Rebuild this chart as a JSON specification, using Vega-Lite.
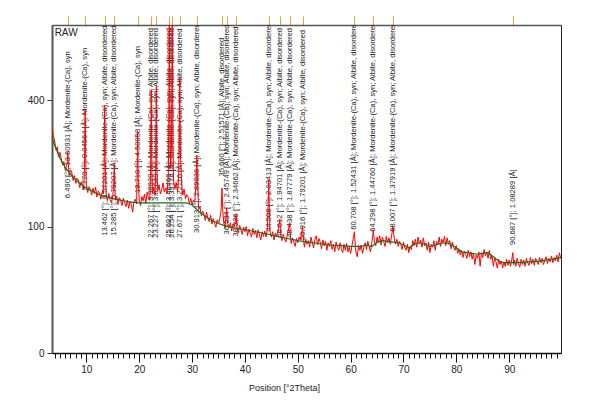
{
"$schema":"https://vega.github.io/schema/vega-lite/v6.json",
"width":509,"height":328,
"autosize":{"type":"none"},
"padding":{"left":52,"top":25,"right":30,"bottom":50},
"background":"white",
"config":{"view":{"stroke":"#222","strokeWidth":1},"axis":{"grid":false,"labelFont":"Liberation Sans","titleFont":"Liberation Sans"}},
"datasets":{
"scan":[
{"twoTheta":3.5,"counts":318},{"twoTheta":3.75,"counts":296},{"twoTheta":4.0,"counts":281},{"twoTheta":4.25,"counts":258},{"twoTheta":4.5,"counts":266},{"twoTheta":4.75,"counts":241},{"twoTheta":5.0,"counts":252},{"twoTheta":5.25,"counts":236},{"twoTheta":5.5,"counts":221},{"twoTheta":5.75,"counts":229},{"twoTheta":6.0,"counts":210},{"twoTheta":6.25,"counts":218},{"twoTheta":6.4,"counts":226},{"twoTheta":6.49,"counts":252},{"twoTheta":6.6,"counts":221},{"twoTheta":6.75,"counts":197},{"twoTheta":7.0,"counts":208},{"twoTheta":7.25,"counts":203},{"twoTheta":7.5,"counts":186},{"twoTheta":7.75,"counts":197},{"twoTheta":8.0,"counts":180},{"twoTheta":8.25,"counts":191},{"twoTheta":8.5,"counts":187},{"twoTheta":8.75,"counts":171},{"twoTheta":9.0,"counts":183},{"twoTheta":9.25,"counts":176},{"twoTheta":9.5,"counts":168},{"twoTheta":9.65,"counts":215},{"twoTheta":9.77,"counts":370},{"twoTheta":9.9,"counts":225},{"twoTheta":10.0,"counts":178},{"twoTheta":10.25,"counts":161},{"twoTheta":10.5,"counts":173},{"twoTheta":10.75,"counts":168},{"twoTheta":11.0,"counts":156},{"twoTheta":11.25,"counts":170},{"twoTheta":11.5,"counts":159},{"twoTheta":11.75,"counts":172},{"twoTheta":12.0,"counts":152},{"twoTheta":12.25,"counts":164},{"twoTheta":12.5,"counts":160},{"twoTheta":12.75,"counts":148},{"twoTheta":13.0,"counts":162},{"twoTheta":13.25,"counts":158},{"twoTheta":13.36,"counts":215},{"twoTheta":13.46,"counts":383},{"twoTheta":13.56,"counts":235},{"twoTheta":13.75,"counts":158},{"twoTheta":14.0,"counts":145},{"twoTheta":14.25,"counts":159},{"twoTheta":14.5,"counts":147},{"twoTheta":14.75,"counts":141},{"twoTheta":15.0,"counts":155},{"twoTheta":15.15,"counts":175},{"twoTheta":15.29,"counts":226},{"twoTheta":15.4,"counts":166},{"twoTheta":15.5,"counts":146},{"twoTheta":15.75,"counts":154},{"twoTheta":16.0,"counts":139},{"twoTheta":16.25,"counts":151},{"twoTheta":16.5,"counts":145},{"twoTheta":16.75,"counts":136},{"twoTheta":17.0,"counts":150},{"twoTheta":17.25,"counts":141},{"twoTheta":17.5,"counts":134},{"twoTheta":17.75,"counts":146},{"twoTheta":18.0,"counts":131},{"twoTheta":18.25,"counts":144},{"twoTheta":18.5,"counts":138},{"twoTheta":18.75,"counts":124},{"twoTheta":19.0,"counts":143},{"twoTheta":19.25,"counts":148},{"twoTheta":19.5,"counts":139},{"twoTheta":19.61,"counts":195},{"twoTheta":19.71,"counts":306},{"twoTheta":19.81,"counts":190},{"twoTheta":20.0,"counts":146},{"twoTheta":20.25,"counts":136},{"twoTheta":20.5,"counts":153},{"twoTheta":20.75,"counts":145},{"twoTheta":21.0,"counts":158},{"twoTheta":21.25,"counts":140},{"twoTheta":21.5,"counts":162},{"twoTheta":21.75,"counts":151},{"twoTheta":22.0,"counts":146},{"twoTheta":22.15,"counts":205},{"twoTheta":22.27,"counts":434},{"twoTheta":22.4,"counts":205},{"twoTheta":22.5,"counts":160},{"twoTheta":22.75,"counts":171},{"twoTheta":23.0,"counts":155},{"twoTheta":23.12,"counts":215},{"twoTheta":23.23,"counts":444},{"twoTheta":23.35,"counts":210},{"twoTheta":23.5,"counts":165},{"twoTheta":23.75,"counts":177},{"twoTheta":24.0,"counts":158},{"twoTheta":24.25,"counts":166},{"twoTheta":24.5,"counts":181},{"twoTheta":24.75,"counts":162},{"twoTheta":25.0,"counts":170},{"twoTheta":25.25,"counts":158},{"twoTheta":25.5,"counts":195},{"twoTheta":25.6,"counts":330},{"twoTheta":25.69,"counts":700},{"twoTheta":25.8,"counts":310},{"twoTheta":25.95,"counts":215},{"twoTheta":26.1,"counts":265},{"twoTheta":26.25,"counts":700},{"twoTheta":26.38,"counts":270},{"twoTheta":26.5,"counts":185},{"twoTheta":26.75,"counts":168},{"twoTheta":27.0,"counts":182},{"twoTheta":27.25,"counts":163},{"twoTheta":27.45,"counts":195},{"twoTheta":27.56,"counts":265},{"twoTheta":27.67,"counts":475},{"twoTheta":27.8,"counts":245},{"twoTheta":27.95,"counts":205},{"twoTheta":28.1,"counts":170},{"twoTheta":28.25,"counts":156},{"twoTheta":28.5,"counts":168},{"twoTheta":28.75,"counts":149},{"twoTheta":29.0,"counts":157},{"twoTheta":29.25,"counts":152},{"twoTheta":29.5,"counts":140},{"twoTheta":29.75,"counts":150},{"twoTheta":30.0,"counts":137},{"twoTheta":30.25,"counts":146},{"twoTheta":30.5,"counts":142},{"twoTheta":30.7,"counts":172},{"twoTheta":30.81,"counts":205},{"twoTheta":30.91,"counts":245},{"twoTheta":31.02,"counts":185},{"twoTheta":31.25,"counts":129},{"twoTheta":31.5,"counts":133},{"twoTheta":31.75,"counts":118},{"twoTheta":32.0,"counts":126},{"twoTheta":32.25,"counts":121},{"twoTheta":32.5,"counts":110},{"twoTheta":32.75,"counts":124},{"twoTheta":33.0,"counts":113},{"twoTheta":33.25,"counts":108},{"twoTheta":33.5,"counts":119},{"twoTheta":33.75,"counts":104},{"twoTheta":34.0,"counts":113},{"twoTheta":34.25,"counts":106},{"twoTheta":34.5,"counts":99},{"twoTheta":34.75,"counts":111},{"twoTheta":35.0,"counts":104},{"twoTheta":35.25,"counts":113},{"twoTheta":35.5,"counts":128},{"twoTheta":35.66,"counts":170},{"twoTheta":35.8,"counts":128},{"twoTheta":36.0,"counts":106},{"twoTheta":36.25,"counts":98},{"twoTheta":36.4,"counts":115},{"twoTheta":36.53,"counts":132},{"twoTheta":36.7,"counts":105},{"twoTheta":37.0,"counts":98},{"twoTheta":37.25,"counts":106},{"twoTheta":37.5,"counts":93},{"twoTheta":37.75,"counts":104},{"twoTheta":38.0,"counts":99},{"twoTheta":38.15,"counts":108},{"twoTheta":38.33,"counts":120},{"twoTheta":38.5,"counts":97},{"twoTheta":38.75,"counts":90},{"twoTheta":39.0,"counts":102},{"twoTheta":39.25,"counts":95},{"twoTheta":39.5,"counts":88},{"twoTheta":39.75,"counts":99},{"twoTheta":40.0,"counts":92},{"twoTheta":40.25,"counts":100},{"twoTheta":40.5,"counts":86},{"twoTheta":40.75,"counts":96},{"twoTheta":41.0,"counts":90},{"twoTheta":41.25,"counts":84},{"twoTheta":41.5,"counts":97},{"twoTheta":41.75,"counts":88},{"twoTheta":42.0,"counts":94},{"twoTheta":42.25,"counts":83},{"twoTheta":42.5,"counts":95},{"twoTheta":42.75,"counts":87},{"twoTheta":43.0,"counts":80},{"twoTheta":43.25,"counts":92},{"twoTheta":43.5,"counts":85},{"twoTheta":43.75,"counts":93},{"twoTheta":44.0,"counts":84},{"twoTheta":44.25,"counts":98},{"twoTheta":44.4,"counts":140},{"twoTheta":44.51,"counts":188},{"twoTheta":44.62,"counts":128},{"twoTheta":44.75,"counts":93},{"twoTheta":45.0,"counts":84},{"twoTheta":45.25,"counts":92},{"twoTheta":45.5,"counts":80},{"twoTheta":45.75,"counts":90},{"twoTheta":46.0,"counts":86},{"twoTheta":46.25,"counts":93},{"twoTheta":46.45,"counts":104},{"twoTheta":46.61,"counts":112},{"twoTheta":46.75,"counts":90},{"twoTheta":47.0,"counts":79},{"twoTheta":47.25,"counts":88},{"twoTheta":47.5,"counts":82},{"twoTheta":47.75,"counts":77},{"twoTheta":48.0,"counts":86},{"twoTheta":48.25,"counts":96},{"twoTheta":48.44,"counts":106},{"twoTheta":48.6,"counts":86},{"twoTheta":48.75,"counts":75},{"twoTheta":49.0,"counts":83},{"twoTheta":49.25,"counts":77},{"twoTheta":49.5,"counts":71},{"twoTheta":49.75,"counts":82},{"twoTheta":50.0,"counts":76},{"twoTheta":50.25,"counts":84},{"twoTheta":50.5,"counts":80},{"twoTheta":50.75,"counts":91},{"twoTheta":50.92,"counts":100},{"twoTheta":51.1,"counts":79},{"twoTheta":51.25,"counts":70},{"twoTheta":51.5,"counts":81},{"twoTheta":51.75,"counts":74},{"twoTheta":52.0,"counts":79},{"twoTheta":52.25,"counts":70},{"twoTheta":52.5,"counts":84},{"twoTheta":52.75,"counts":76},{"twoTheta":53.0,"counts":69},{"twoTheta":53.25,"counts":81},{"twoTheta":53.5,"counts":86},{"twoTheta":53.75,"counts":73},{"twoTheta":54.0,"counts":82},{"twoTheta":54.25,"counts":77},{"twoTheta":54.5,"counts":68},{"twoTheta":54.75,"counts":80},{"twoTheta":55.0,"counts":72},{"twoTheta":55.25,"counts":78},{"twoTheta":55.5,"counts":66},{"twoTheta":55.75,"counts":76},{"twoTheta":56.0,"counts":71},{"twoTheta":56.25,"counts":79},{"twoTheta":56.5,"counts":67},{"twoTheta":56.75,"counts":74},{"twoTheta":57.0,"counts":64},{"twoTheta":57.25,"counts":77},{"twoTheta":57.5,"counts":70},{"twoTheta":57.75,"counts":66},{"twoTheta":58.0,"counts":76},{"twoTheta":58.25,"counts":68},{"twoTheta":58.5,"counts":63},{"twoTheta":58.75,"counts":74},{"twoTheta":59.0,"counts":66},{"twoTheta":59.25,"counts":75},{"twoTheta":59.5,"counts":64},{"twoTheta":59.75,"counts":70},{"twoTheta":60.0,"counts":62},{"twoTheta":60.25,"counts":72},{"twoTheta":60.5,"counts":82},{"twoTheta":60.71,"counts":92},{"twoTheta":60.9,"counts":70},{"twoTheta":61.0,"counts":64},{"twoTheta":61.25,"counts":58},{"twoTheta":61.5,"counts":72},{"twoTheta":61.75,"counts":66},{"twoTheta":62.0,"counts":73},{"twoTheta":62.25,"counts":62},{"twoTheta":62.5,"counts":70},{"twoTheta":62.75,"counts":76},{"twoTheta":63.0,"counts":67},{"twoTheta":63.25,"counts":78},{"twoTheta":63.5,"counts":71},{"twoTheta":63.75,"counts":64},{"twoTheta":64.0,"counts":76},{"twoTheta":64.15,"counts":84},{"twoTheta":64.3,"counts":95},{"twoTheta":64.5,"counts":76},{"twoTheta":64.75,"counts":72},{"twoTheta":65.0,"counts":84},{"twoTheta":65.25,"counts":76},{"twoTheta":65.5,"counts":86},{"twoTheta":65.75,"counts":73},{"twoTheta":66.0,"counts":84},{"twoTheta":66.25,"counts":78},{"twoTheta":66.5,"counts":71},{"twoTheta":66.75,"counts":85},{"twoTheta":67.0,"counts":76},{"twoTheta":67.25,"counts":83},{"twoTheta":67.5,"counts":74},{"twoTheta":67.75,"counts":86},{"twoTheta":68.01,"counts":100},{"twoTheta":68.25,"counts":82},{"twoTheta":68.5,"counts":74},{"twoTheta":68.75,"counts":81},{"twoTheta":69.0,"counts":71},{"twoTheta":69.25,"counts":78},{"twoTheta":69.5,"counts":74},{"twoTheta":69.75,"counts":67},{"twoTheta":70.0,"counts":77},{"twoTheta":70.25,"counts":69},{"twoTheta":70.5,"counts":66},{"twoTheta":70.75,"counts":74},{"twoTheta":71.0,"counts":63},{"twoTheta":71.25,"counts":71},{"twoTheta":71.5,"counts":67},{"twoTheta":71.75,"counts":79},{"twoTheta":72.0,"counts":72},{"twoTheta":72.25,"counts":81},{"twoTheta":72.5,"counts":70},{"twoTheta":72.75,"counts":84},{"twoTheta":73.0,"counts":75},{"twoTheta":73.25,"counts":80},{"twoTheta":73.5,"counts":70},{"twoTheta":73.75,"counts":83},{"twoTheta":74.0,"counts":72},{"twoTheta":74.25,"counts":76},{"twoTheta":74.5,"counts":66},{"twoTheta":74.75,"counts":77},{"twoTheta":75.0,"counts":63},{"twoTheta":75.25,"counts":74},{"twoTheta":75.5,"counts":70},{"twoTheta":75.75,"counts":79},{"twoTheta":76.0,"counts":66},{"twoTheta":76.25,"counts":78},{"twoTheta":76.5,"counts":73},{"twoTheta":76.75,"counts":84},{"twoTheta":77.0,"counts":71},{"twoTheta":77.25,"counts":81},{"twoTheta":77.5,"counts":76},{"twoTheta":77.75,"counts":85},{"twoTheta":78.0,"counts":72},{"twoTheta":78.25,"counts":83},{"twoTheta":78.5,"counts":74},{"twoTheta":78.75,"counts":79},{"twoTheta":79.0,"counts":68},{"twoTheta":79.25,"counts":77},{"twoTheta":79.5,"counts":70},{"twoTheta":79.75,"counts":66},{"twoTheta":80.0,"counts":72},{"twoTheta":80.25,"counts":62},{"twoTheta":80.5,"counts":68},{"twoTheta":80.75,"counts":60},{"twoTheta":81.0,"counts":66},{"twoTheta":81.25,"counts":57},{"twoTheta":81.5,"counts":65},{"twoTheta":81.75,"counts":61},{"twoTheta":82.0,"counts":56},{"twoTheta":82.25,"counts":66},{"twoTheta":82.5,"counts":58},{"twoTheta":82.75,"counts":64},{"twoTheta":83.0,"counts":55},{"twoTheta":83.25,"counts":62},{"twoTheta":83.5,"counts":49},{"twoTheta":83.75,"counts":60},{"twoTheta":84.0,"counts":56},{"twoTheta":84.25,"counts":64},{"twoTheta":84.5,"counts":47},{"twoTheta":84.75,"counts":63},{"twoTheta":85.0,"counts":57},{"twoTheta":85.25,"counts":67},{"twoTheta":85.5,"counts":59},{"twoTheta":85.75,"counts":64},{"twoTheta":86.0,"counts":56},{"twoTheta":86.25,"counts":66},{"twoTheta":86.5,"counts":55},{"twoTheta":86.75,"counts":59},{"twoTheta":87.0,"counts":47},{"twoTheta":87.25,"counts":57},{"twoTheta":87.5,"counts":52},{"twoTheta":87.75,"counts":45},{"twoTheta":88.0,"counts":55},{"twoTheta":88.25,"counts":49},{"twoTheta":88.5,"counts":53},{"twoTheta":88.75,"counts":45},{"twoTheta":89.0,"counts":52},{"twoTheta":89.25,"counts":47},{"twoTheta":89.5,"counts":55},{"twoTheta":89.75,"counts":48},{"twoTheta":90.0,"counts":54},{"twoTheta":90.25,"counts":47},{"twoTheta":90.5,"counts":55},{"twoTheta":90.69,"counts":63},{"twoTheta":90.85,"counts":49},{"twoTheta":91.0,"counts":54},{"twoTheta":91.25,"counts":47},{"twoTheta":91.5,"counts":56},{"twoTheta":91.75,"counts":50},{"twoTheta":92.0,"counts":46},{"twoTheta":92.25,"counts":55},{"twoTheta":92.5,"counts":49},{"twoTheta":92.75,"counts":54},{"twoTheta":93.0,"counts":47},{"twoTheta":93.25,"counts":56},{"twoTheta":93.5,"counts":51},{"twoTheta":93.75,"counts":48},{"twoTheta":94.0,"counts":57},{"twoTheta":94.25,"counts":50},{"twoTheta":94.5,"counts":55},{"twoTheta":94.75,"counts":48},{"twoTheta":95.0,"counts":56},{"twoTheta":95.25,"counts":52},{"twoTheta":95.5,"counts":49},{"twoTheta":95.75,"counts":57},{"twoTheta":96.0,"counts":51},{"twoTheta":96.25,"counts":56},{"twoTheta":96.5,"counts":49},{"twoTheta":96.75,"counts":54},{"twoTheta":97.0,"counts":58},{"twoTheta":97.25,"counts":50},{"twoTheta":97.5,"counts":56},{"twoTheta":97.75,"counts":52},{"twoTheta":98.0,"counts":59},{"twoTheta":98.25,"counts":51},{"twoTheta":98.5,"counts":57},{"twoTheta":98.75,"counts":53},{"twoTheta":99.0,"counts":60},{"twoTheta":99.25,"counts":52},{"twoTheta":99.5,"counts":63},{"twoTheta":99.75,"counts":56}
],
"bg":[
{"twoTheta":3.5,"counts":290},{"twoTheta":4,"counts":270},{"twoTheta":5,"counts":238},{"twoTheta":6,"counts":215},{"twoTheta":7,"counts":200},{"twoTheta":8,"counts":188},{"twoTheta":9,"counts":178},{"twoTheta":10,"counts":170},{"twoTheta":11,"counts":164},{"twoTheta":12,"counts":159},{"twoTheta":13,"counts":155},{"twoTheta":14,"counts":152},{"twoTheta":15,"counts":149},{"twoTheta":16,"counts":147},{"twoTheta":17,"counts":145},{"twoTheta":18,"counts":143},{"twoTheta":19,"counts":142},{"twoTheta":20,"counts":141},{"twoTheta":29,"counts":141},{"twoTheta":30,"counts":137},{"twoTheta":31,"counts":128},{"twoTheta":32,"counts":120},{"twoTheta":33,"counts":114},{"twoTheta":34,"counts":109},{"twoTheta":35,"counts":105},{"twoTheta":36,"counts":102},{"twoTheta":37,"counts":100},{"twoTheta":38,"counts":98},{"twoTheta":40,"counts":95},{"twoTheta":42,"counts":92},{"twoTheta":44,"counts":89},{"twoTheta":46,"counts":85},{"twoTheta":48,"counts":82},{"twoTheta":50,"counts":79},{"twoTheta":52,"counts":77},{"twoTheta":54,"counts":75},{"twoTheta":56,"counts":73},{"twoTheta":58,"counts":72},{"twoTheta":60,"counts":71},{"twoTheta":62,"counts":71},{"twoTheta":63,"counts":73},{"twoTheta":64,"counts":71},{"twoTheta":65,"counts":77},{"twoTheta":66,"counts":79},{"twoTheta":67,"counts":78},{"twoTheta":68,"counts":77},{"twoTheta":69,"counts":76},{"twoTheta":70,"counts":73},{"twoTheta":71,"counts":69},{"twoTheta":72,"counts":74},{"twoTheta":73,"counts":76},{"twoTheta":74,"counts":74},{"twoTheta":75,"counts":71},{"twoTheta":76,"counts":73},{"twoTheta":77,"counts":75},{"twoTheta":78,"counts":76},{"twoTheta":79,"counts":74},{"twoTheta":80,"counts":69},{"twoTheta":81,"counts":64},{"twoTheta":82,"counts":63},{"twoTheta":83,"counts":62},{"twoTheta":84,"counts":61},{"twoTheta":85,"counts":62},{"twoTheta":86,"counts":63},{"twoTheta":87,"counts":58},{"twoTheta":88,"counts":53},{"twoTheta":89,"counts":51},{"twoTheta":92,"counts":51},{"twoTheta":94,"counts":52},{"twoTheta":96,"counts":53},{"twoTheta":98,"counts":55},{"twoTheta":99.8,"counts":57}
],
"peaks":[
{"twoTheta":6.49,"labelCounts":150,"label":"6.490 [°]; 13.60931 [Å]; Mordenite-(Ca), syn"},
{"twoTheta":9.77,"labelCounts":165,"label":"9.770 [°]; 9.04564 [Å]; Mordenite-(Ca), syn"},
{"twoTheta":13.462,"labelCounts":86,"label":"13.462 [°]; 6.57201 [Å]; Mordenite-(Ca), syn; Albite, disordered"},
{"twoTheta":15.285,"labelCounts":86,"label":"15.285 [°]; 5.79207 [Å]; Mordenite-(Ca), syn; Albite, disordered"},
{"twoTheta":19.71,"labelCounts":160,"label":"19.710 [°]; 4.50058 [Å]; Mordenite-(Ca), syn"},
{"twoTheta":22.267,"labelCounts":83,"label":"22.267 [°]; 3.98920 [Å]; Mordenite-(Ca), syn; Albite, disordered"},
{"twoTheta":23.227,"labelCounts":83,"label":"23.227 [°]; 3.82649 [Å]; Mordenite-(Ca), syn; Albite, disordered"},
{"twoTheta":25.692,"labelCounts":83,"label":"25.692 [°]; 3.46466 [Å]; Mordenite-(Ca), syn; Albite, disordered"},
{"twoTheta":26.254,"labelCounts":83,"label":"26.254 [°]; 3.39174 [Å]; Mordenite-(Ca), syn; Albite, disordered"},
{"twoTheta":27.671,"labelCounts":83,"label":"27.671 [°]; 3.22116 [Å]; Mordenite-(Ca), syn; Albite, disordered"},
{"twoTheta":30.913,"labelCounts":90,"label":"30.913 [°]; 2.89036 [Å]; Mordenite-(Ca), syn; Albite, disordered"},
{"twoTheta":35.66,"labelCounts":195,"label":"35.660 [°]; 2.51571 [Å]; Albite, disordered"},
{"twoTheta":36.534,"labelCounts":88,"label":"36.534 [°]; 2.45749 [Å]; Mordenite-(Ca), syn; Albite, disordered"},
{"twoTheta":38.326,"labelCounts":85,"label":"38.326 [°]; 2.34662 [Å]; Mordenite-(Ca), syn; Albite, disordered"},
{"twoTheta":44.508,"labelCounts":92,"label":"44.508 [°]; 2.03413 [Å]; Mordenite-(Ca), syn; Albite, disordered"},
{"twoTheta":46.612,"labelCounts":83,"label":"46.612 [°]; 1.94701 [Å]; Mordenite-(Ca), syn; Albite, disordered"},
{"twoTheta":48.438,"labelCounts":83,"label":"48.438 [°]; 1.87779 [Å]; Mordenite-(Ca), syn; Albite, disordered"},
{"twoTheta":50.916,"labelCounts":80,"label":"50.916 [°]; 1.79201 [Å]; Mordenite-(Ca), syn; Albite, disordered"},
{"twoTheta":60.708,"labelCounts":95,"label":"60.708 [°]; 1.52431 [Å]; Mordenite-(Ca), syn; Albite, disordered"},
{"twoTheta":64.298,"labelCounts":92,"label":"64.298 [°]; 1.44760 [Å]; Mordenite-(Ca), syn; Albite, disordered"},
{"twoTheta":68.007,"labelCounts":92,"label":"68.007 [°]; 1.37919 [Å]; Mordenite-(Ca), syn; Albite, disordered"},
{"twoTheta":90.687,"labelCounts":73,"label":"90.687 [°]; 1.08289 [Å]"}
]
},
"layer":[
{"data":{"name":"peaks"},
 "mark":{"type":"text","angle":270,"align":"left","baseline":"middle","font":"Liberation Sans","fontSize":7.6,"color":"#222","clip":true},
 "encoding":{
  "x":{"field":"twoTheta","type":"quantitative","scale":{"domain":[3.5,99.8],"nice":false,"zero":false},
   "axis":{"orient":"top","values":[6.49,9.77,13.462,15.285,19.71,22.267,23.227,25.692,26.254,27.671,30.913,35.66,36.534,38.326,44.508,46.612,48.438,50.916,60.708,64.298,68.007,90.687],"labels":false,"title":null,"tickColor":"#f0a040","tickSize":9,"tickWidth":1,"domainColor":"#555","domainWidth":1.5}},
  "y":{"field":"labelCounts","type":"quantitative","title":null},
  "text":{"field":"label"}}},
{"data":{"name":"scan"},
 "mark":{"type":"line","color":"#ff0000","strokeWidth":1,"clip":true},
 "encoding":{
  "x":{"field":"twoTheta","type":"quantitative",
   "axis":{"orient":"bottom","values":[4,5,6,7,8,9,10,11,12,13,14,15,16,17,18,19,20,21,22,23,24,25,26,27,28,29,30,31,32,33,34,35,36,37,38,39,40,41,42,43,44,45,46,47,48,49,50,51,52,53,54,55,56,57,58,59,60,61,62,63,64,65,66,67,68,69,70,71,72,73,74,75,76,77,78,79,80,81,82,83,84,85,86,87,88,89,90,91,92,93,94,95,96,97,98,99],
    "labelExpr":"datum.value % 10 === 0 ? datum.label : ''","labelOverlap":false,"labelFlush":false,
    "tickSize":{"condition":{"test":"datum.value % 10 === 0","value":9},"value":5},
    "tickColor":"#111","domainColor":"#111","domainWidth":1.5,"labelFontSize":10,"labelColor":"#222","labelPadding":2,
    "title":"Position [°2Theta]","titleFontSize":9,"titleFontWeight":"normal","titleColor":"#222","titleX":232,"titleY":37,"titleBaseline":"alphabetic"}},
  "y":{"field":"counts","type":"quantitative","scale":{"type":"sqrt","domain":[0,673],"nice":false},
   "axis":{"values":[0,100,400],"title":null,"tickSize":5,"tickColor":"#333","domainColor":"#555","domainWidth":2,"labelFontSize":10,"labelColor":"#222","labelPadding":3}}}},
{"data":{"name":"bg"},
 "mark":{"type":"line","color":"#1a701a","strokeWidth":1.2},
 "encoding":{
  "x":{"field":"twoTheta","type":"quantitative","axis":null},
  "y":{"field":"counts","type":"quantitative","title":null}}},
{"data":{"values":[{"name":"RAW"}]},
 "mark":{"type":"text","align":"left","baseline":"top","font":"Liberation Sans","fontSize":10,"color":"#222"},
 "encoding":{
  "x":{"datum":4.0,"type":"quantitative","axis":null},
  "y":{"datum":660,"type":"quantitative","title":null},
  "text":{"field":"name"}}}
],
"resolve":{"axis":{"x":"independent"}}
}
